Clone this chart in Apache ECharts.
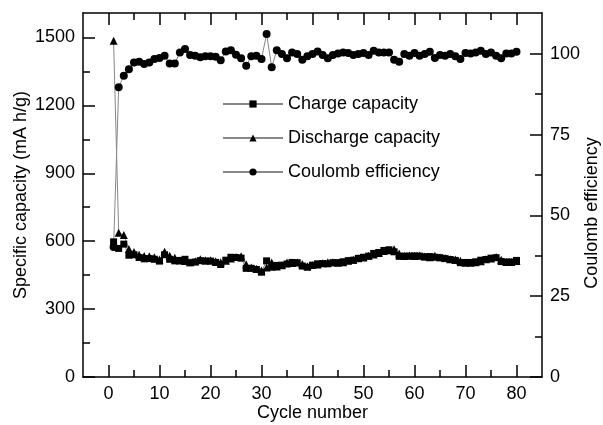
<!DOCTYPE html>
<html>
<head>
<meta charset="utf-8">
<script src="https://cdn.jsdelivr.net/npm/echarts@6/dist/echarts.min.js"></script>
<style>html,body{margin:0;padding:0;background:#fff}#c{width:603px;height:425px}</style>
</head>
<body>
<div id="c"></div>
<script>
var cycles = [1,2,3,4,5,6,7,8,9,10,11,12,13,14,15,16,17,18,19,20,21,22,23,24,25,26,27,28,29,30,31,32,33,34,35,36,37,38,39,40,41,42,43,44,45,46,47,48,49,50,51,52,53,54,55,56,57,58,59,60,61,62,63,64,65,66,67,68,69,70,71,72,73,74,75,76,77,78,79,80];
var chargeCapacity = [597,568,587,538,540,528,522,523,520,512,540,520,513,515,520,505,508,514,512,512,506,497,516,529,528,525,480,480,475,463,513,485,493,494,499,506,505,490,485,494,500,501,500,505,505,509,514,516,524,529,534,546,550,559,562,553,533,534,534,535,534,531,532,529,527,523,519,515,505,506,506,509,516,519,525,527,510,508,508,515];
var dischargeCapacity = [1485,637,627,565,552,540,534,533,529,519,553,536,527,515,512,507,511,520,516,516,511,507,513,523,530,533,498,484,478,470,484,506,488,494,506,504,506,499,489,495,497,503,507,507,505,507,513,518,525,528,536,541,548,557,560,564,546,535,537,534,537,532,529,536,529,526,520,519,513,505,505,507,511,520,523,530,518,508,508,512];
var coulombEfficiency = [40.2,89.6,93.2,95.2,97.3,97.5,96.8,97.3,98.4,98.7,99.4,97.0,97.0,100.4,101.5,99.6,99.4,98.9,99.2,99.2,99.1,98.0,100.7,101.1,99.7,98.6,96.3,99.2,99.4,98.4,106.1,95.8,101.1,99.9,98.6,100.4,99.9,98.1,99.2,99.9,100.7,99.6,98.6,99.6,100.1,100.4,100.2,99.6,99.9,100.2,99.6,100.9,100.4,100.4,100.4,98.1,97.5,99.9,99.4,100.2,99.4,99.9,100.6,98.7,99.6,99.4,99.9,99.2,98.4,100.2,100.1,100.4,100.9,99.9,100.4,99.4,98.6,100.1,100.1,100.6];
var xMajorTicks = [0,10,20,30,40,50,60,70,80];
var xMinorTicks = [5,15,25,35,45,55,65,75];
var capMajorTicks = [0,300,600,900,1200,1500];
var capMinorTicks = [150,450,750,1050,1350];
var effMajorTicks = [0,25,50,75,100];
var effMinorTicks = [12.5,37.5,62.5,87.5];

function pairs(xs, ys){ return xs.map(function(x,i){ return [x, ys[i]]; }); }

var FONT = 'Liberation Sans, Arial, sans-serif';
var FS = 18;
var black = '#000';
var axLine = {show:true, onZero:false, lineStyle:{color:black, width:1.5}};
function tickAxis(base, ticks, len, showLine, label){
  var o = Object.assign({}, base);
  o.axisLine = showLine ? axLine : {show:false, onZero:false};
  o.axisTick = {show:true, inside:true, length:len, customValues:ticks, lineStyle:{color:black, width:1.5}};
  o.axisLabel = label ? Object.assign({customValues:ticks}, label) : {show:false};
  o.splitLine = {show:false};
  return o;
}
var labelStyle = {show:true, color:black, fontSize:FS, fontFamily:FONT, margin:8,
  formatter:function(v){ return String(v); }};
var nameStyle = {color:black, fontSize:FS, fontFamily:FONT};
var xBase = {type:'value', min:-5, max:85, gridIndex:0};
var capBase = {type:'value', min:0, max:1608, gridIndex:0};
var effBase = {type:'value', min:0, max:112.6, gridIndex:0};

var xBottom = tickAxis(Object.assign({position:'bottom', name:'Cycle number', nameLocation:'middle', nameGap:27,
  nameMoveOverlap:false, nameTextStyle:nameStyle}, xBase), xMajorTicks, 12, true, labelStyle);
var xBottomMinor = tickAxis(Object.assign({position:'bottom'}, xBase), xMinorTicks, 7, false, null);
var xTop = tickAxis(Object.assign({position:'top'}, xBase), xMajorTicks, 12, true, null);
var xTopMinor = tickAxis(Object.assign({position:'top'}, xBase), xMinorTicks, 7, false, null);

var yCap = tickAxis(Object.assign({position:'left', name:'Specific capacity (mA h/g)', nameLocation:'middle', nameGap:53,
  nameMoveOverlap:false, nameTextStyle:nameStyle}, capBase), capMajorTicks, 12, true, labelStyle);
var yCapMinor = tickAxis(Object.assign({position:'left'}, capBase), capMinorTicks, 7, false, null);
var yEff = tickAxis(Object.assign({position:'right', name:'Coulomb efficiency', nameLocation:'middle', nameGap:41,
  nameMoveOverlap:false, nameTextStyle:Object.assign({padding:[0,36,0,0]}, nameStyle)}, effBase), effMajorTicks, 12, true, labelStyle);
var yEffMinor = tickAxis(Object.assign({position:'right'}, effBase), effMinorTicks, 7, false, null);

var lineStyle = {color:'#888', width:1};
var chart = echarts.init(document.getElementById('c'), null, {renderer:'canvas'});
chart.setOption({
  animation:false,
  backgroundColor:'#fff',
  textStyle:{fontFamily:FONT},
  grid:{left:83, right:61, top:13, bottom:48, containLabel:false, outerBoundsMode:'none'},
  legend:{
    orient:'vertical', left:217, top:90, itemWidth:60, itemHeight:9, itemGap:16,
    textStyle:{color:black, fontSize:FS, fontFamily:FONT},
    data:['Charge capacity','Discharge capacity','Coulomb efficiency']
  },
  xAxis:[xBottom, xBottomMinor, xTop, xTopMinor],
  yAxis:[yCap, yCapMinor, yEff, yEffMinor],
  series:[
    {name:'Charge capacity', type:'line', xAxisIndex:0, yAxisIndex:0, data:pairs(cycles, chargeCapacity),
     symbol:'rect', symbolSize:7, itemStyle:{color:black}, lineStyle:lineStyle},
    {name:'Discharge capacity', type:'line', xAxisIndex:0, yAxisIndex:0, data:pairs(cycles, dischargeCapacity),
     symbol:'triangle', symbolSize:8, itemStyle:{color:black}, lineStyle:lineStyle},
    {name:'Coulomb efficiency', type:'line', xAxisIndex:0, yAxisIndex:2, data:pairs(cycles, coulombEfficiency),
     symbol:'circle', symbolSize:8, itemStyle:{color:black}, lineStyle:lineStyle}
  ]
});
</script>
</body>
</html>
